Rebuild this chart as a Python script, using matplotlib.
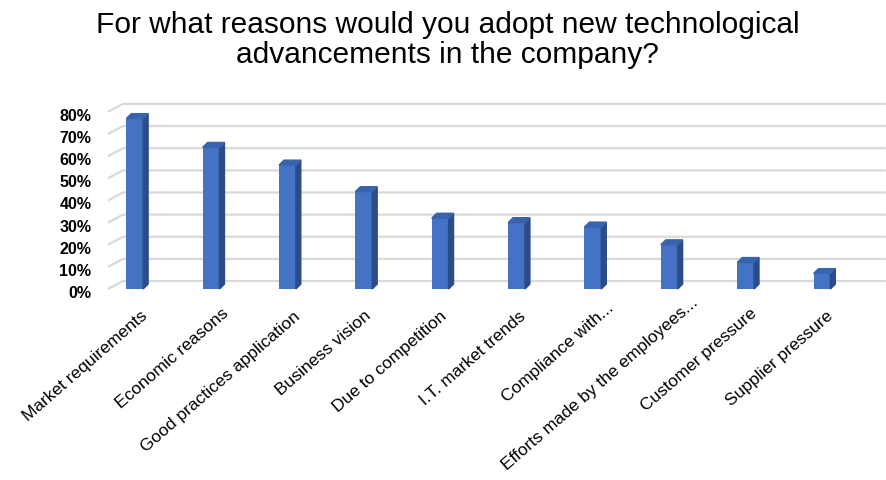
import numpy as np
import matplotlib.pyplot as plt
from matplotlib.patches import Polygon
from matplotlib.transforms import ScaledTranslation

plt.rcParams['font.family'] = ['Liberation Sans', 'DejaVu Sans']

# survey answers (share of companies)
reasons = ['Market requirements', 'Economic reasons', 'Good practices application',
           'Business vision', 'Due to competition', 'I.T. market trends',
           'Compliance with...', 'Efforts made by the employees...',
           'Customer pressure', 'Supplier pressure']
shares = [77, 64, 56, 44, 32, 30, 28, 20, 12, 7]
yticks = [0, 10, 20, 30, 40, 50, 60, 70, 80]

front_col = '#4472C4'
side_col = '#2B4C88'
top_col = '#3A63AE'
grid_col = '#D9D9D9'

# fake 3d depth offsets (data units)
bar_w = 0.22
bar_dx, bar_dy = 0.065, 2.2
wall_dx, wall_dy = 0.196, 3.6

fig = plt.figure(figsize=(8.86, 4.80), dpi=100)
ax = fig.add_axes([0.1219, 0.3979, 0.861, 0.369])
x = np.arange(len(reasons))
x_lo, x_hi = -0.35, 9.64
ax.set_xlim(x_lo, x_hi)
ax.set_ylim(0, 80)

# back wall gridlines with the slanted floor edge on the left
for v in yticks:
    ax.plot([x_lo, x_lo + wall_dx, x_hi + wall_dx], [v, v + wall_dy, v + wall_dy],
            color=grid_col, lw=1.6, clip_on=False, zorder=1, solid_capstyle='butt')

ax.bar(x, shares, width=bar_w, color=front_col, zorder=3, clip_on=False)
for xi, v in zip(x, shares):
    r = xi + bar_w / 2
    l = xi - bar_w / 2
    side = Polygon([[r, 0], [r + bar_dx, bar_dy], [r + bar_dx, v + bar_dy], [r, v]],
                   closed=True, color=side_col, zorder=3, clip_on=False)
    top = Polygon([[l, v], [r, v], [r + bar_dx, v + bar_dy], [l + bar_dx, v + bar_dy]],
                  closed=True, color=top_col, zorder=3, clip_on=False)
    ax.add_patch(side)
    ax.add_patch(top)

for s in ax.spines.values():
    s.set_visible(False)

ax.set_yticks(yticks)
ax.set_yticklabels([f'{v}%' for v in yticks], fontsize=11.5, fontweight='bold')
ax.tick_params(axis='y', length=0, pad=12)
for lab in ax.get_yticklabels():
    lab.set_transform(lab.get_transform() + ScaledTranslation(0, -3 / 100, fig.dpi_scale_trans))

ax.set_xticks(x)
ax.set_xticklabels(reasons, rotation=41, ha='right', rotation_mode='anchor', fontsize=12.5)
ax.tick_params(axis='x', length=0, pad=14)
# long labels sit a bit further up and right
extra = [(6, 0), (10, 3), (6, 0), (0, 0), (0, 0), (2, 0), (14, 8), (22, 13), (4, 3), (4, 0)]
for lab, (ex, ey) in zip(ax.get_xticklabels(), extra):
    lab.set_transform(lab.get_transform() + ScaledTranslation(ex / 100, ey / 100, fig.dpi_scale_trans))

fig.text(0.505, 0.978, 'For what reasons would you adopt new technological\nadvancements in the company?',
         ha='center', va='top', fontsize=21.5, linespacing=1.1)

fig.savefig('out.png', dpi=100)
